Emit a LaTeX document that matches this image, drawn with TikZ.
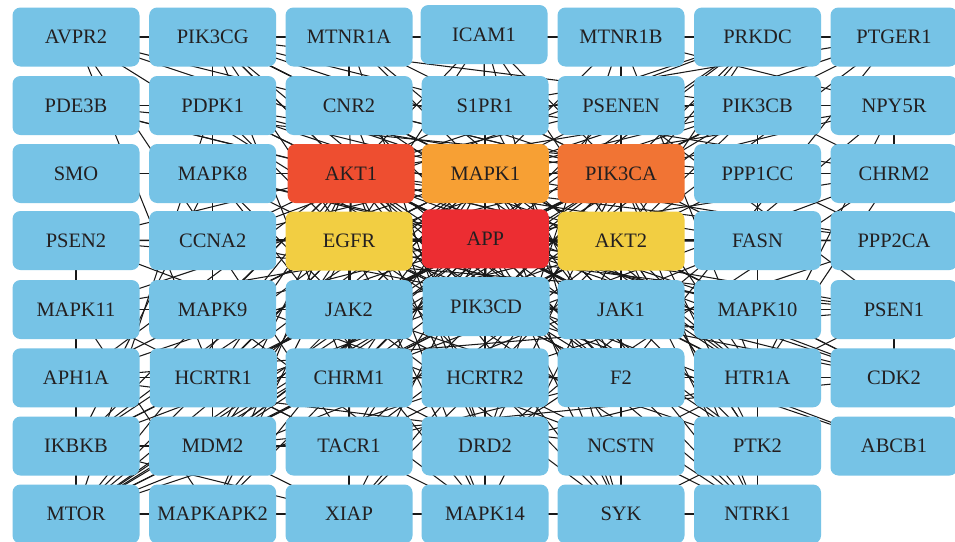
\documentclass[tikz,border=0pt]{standalone}
\usepackage{fontspec}
\setmainfont{Liberation Serif}
\usetikzlibrary{backgrounds}
\definecolor{nblue}{RGB}{118,195,230}
\definecolor{ntext}{RGB}{35,31,32}
\definecolor{ecol}{RGB}{25,25,25}
\definecolor{cakt}{RGB}{238,78,48}
\definecolor{cmapk}{RGB}{247,160,52}
\definecolor{cpik}{RGB}{241,116,52}
\definecolor{capp}{RGB}{236,45,50}
\definecolor{cyel}{RGB}{242,206,66}
\begin{document}
\begin{tikzpicture}[x=1pt,y=-1pt,
  gene/.style={rounded corners=8pt, minimum width=127pt, minimum height=59pt,
    inner sep=0pt, fill=nblue, text=ntext, font=\fontsize{20.5}{24}\selectfont},
  edge/.style={line width=1.05pt, draw=ecol}]
\useasboundingbox (0,0) rectangle (955,541);
% row 1
\node[gene] (AVPR2) at (76,37) {AVPR2};
\node[gene] (PIK3CG) at (212.7,37) {PIK3CG};
\node[gene] (MTNR1A) at (349,37) {MTNR1A};
\node[gene] (ICAM1) at (484,34.5) {ICAM1};
\node[gene] (MTNR1B) at (621,37) {MTNR1B};
\node[gene] (PRKDC) at (757.5,37) {PRKDC};
\node[gene] (PTGER1) at (894,37) {PTGER1};
% row 2
\node[gene] (PDE3B) at (76,105.5) {PDE3B};
\node[gene] (PDPK1) at (212.7,105.5) {PDPK1};
\node[gene] (CNR2) at (349,105.5) {CNR2};
\node[gene] (S1PR1) at (485,105.5) {S1PR1};
\node[gene] (PSENEN) at (621,105.5) {PSENEN};
\node[gene] (PIK3CB) at (757.5,105.5) {PIK3CB};
\node[gene] (NPY5R) at (894,105.5) {NPY5R};
% row 3
\node[gene] (SMO) at (76,173.5) {SMO};
\node[gene] (MAPK8) at (212.7,173.5) {MAPK8};
\node[gene,fill=cakt] (AKT1) at (351,173.5) {AKT1};
\node[gene,fill=cmapk] (MAPK1) at (485.3,173.5) {MAPK1};
\node[gene,fill=cpik] (PIK3CA) at (621,173.5) {PIK3CA};
\node[gene] (PPP1CC) at (757.5,173.5) {PPP1CC};
\node[gene] (CHRM2) at (894,173.5) {CHRM2};
% row 4
\node[gene] (PSEN2) at (76,240.5) {PSEN2};
\node[gene] (CCNA2) at (212.7,240.5) {CCNA2};
\node[gene,fill=cyel] (EGFR) at (349,241) {EGFR};
\node[gene,fill=capp] (APP) at (485.3,238.8) {APP};
\node[gene,fill=cyel] (AKT2) at (621,241) {AKT2};
\node[gene] (FASN) at (757.5,240.5) {FASN};
\node[gene] (PPP2CA) at (894,240.5) {PPP2CA};
% row 5
\node[gene] (MAPK11) at (76,309.5) {MAPK11};
\node[gene] (MAPK9) at (212.7,309.5) {MAPK9};
\node[gene] (JAK2) at (349,309.5) {JAK2};
\node[gene] (PIK3CD) at (486,306.7) {PIK3CD};
\node[gene] (JAK1) at (621,309.5) {JAK1};
\node[gene] (MAPK10) at (757.5,309.5) {MAPK10};
\node[gene] (PSEN1) at (894,309.5) {PSEN1};
% row 6
\node[gene] (APH1A) at (76,377.8) {APH1A};
\node[gene] (HCRTR1) at (213.3,377.8) {HCRTR1};
\node[gene] (CHRM1) at (349,377.8) {CHRM1};
\node[gene] (HCRTR2) at (485,377.8) {HCRTR2};
\node[gene] (F2) at (621,377.5) {F2};
\node[gene] (HTR1A) at (757.5,377.8) {HTR1A};
\node[gene] (CDK2) at (894,377.8) {CDK2};
% row 7
\node[gene] (IKBKB) at (76,446) {IKBKB};
\node[gene] (MDM2) at (212.7,446) {MDM2};
\node[gene] (TACR1) at (349,446) {TACR1};
\node[gene] (DRD2) at (485,446) {DRD2};
\node[gene] (NCSTN) at (621,446) {NCSTN};
\node[gene] (PTK2) at (757.5,446) {PTK2};
\node[gene] (ABCB1) at (894,446) {ABCB1};
% row 8
\node[gene] (MTOR) at (76,514) {MTOR};
\node[gene] (MAPKAPK2) at (212.7,514) {MAPKAPK2};
\node[gene] (XIAP) at (349,514) {XIAP};
\node[gene] (MAPK14) at (485,514) {MAPK14};
\node[gene] (SYK) at (621,514) {SYK};
\node[gene] (NTRK1) at (757.5,514) {NTRK1};

\begin{pgfonlayer}{background}
\fill[white] (0,0) rectangle (955,541);
\foreach \h/\l in {
 APP/{AKT1,MAPK1,PIK3CA,EGFR,AKT2,PSEN1,PSEN2,PSENEN,NCSTN,APH1A,MAPK8,MAPK9,MAPK10,MAPK11,MAPK14,CDK2,CCNA2,JAK2,JAK1,PIK3CD,PIK3CB,MTOR,MDM2,IKBKB,HTR1A,CHRM1,CHRM2,DRD2,F2,HCRTR1,HCRTR2,TACR1,CNR2,S1PR1,NTRK1,PTK2,PPP2CA,PDPK1,SYK,MAPKAPK2,ICAM1,XIAP},
 AKT1/{MAPK1,PIK3CA,EGFR,AKT2,PDPK1,MTOR,MDM2,XIAP,IKBKB,CCNA2,CDK2,PIK3CB,PIK3CD,PIK3CG,MAPK8,MAPK14,MAPK9,JAK2,JAK1,PTK2,NTRK1,SYK,FASN,PPP2CA,PPP1CC,ICAM1,PRKDC,PDE3B,MAPKAPK2,SMO,CNR2,S1PR1,CHRM1,HTR1A,DRD2,F2,TACR1,HCRTR1,MAPK10,APH1A},
 MAPK1/{PIK3CA,EGFR,AKT2,MAPK8,MAPK9,MAPK10,MAPK11,MAPK14,MAPKAPK2,JAK2,JAK1,PTK2,NTRK1,SYK,PDPK1,MTOR,CCNA2,CDK2,ICAM1,IKBKB,MDM2,PPP2CA,PPP1CC,CNR2,S1PR1,CHRM1,CHRM2,HTR1A,DRD2,F2,HCRTR1,HCRTR2,TACR1,AVPR2,MTNR1A,MTNR1B,NPY5R,PTGER1,PIK3CB,PIK3CD,PIK3CG,SMO},
 PIK3CA/{EGFR,AKT2,PIK3CB,PIK3CD,PIK3CG,PDPK1,MTOR,JAK2,JAK1,PTK2,NTRK1,SYK,CHRM1,CHRM2,HTR1A,DRD2,F2,HCRTR1,HCRTR2,TACR1,CNR2,S1PR1,AVPR2,MTNR1A,MTNR1B,NPY5R,PTGER1,ICAM1,PRKDC,IKBKB,MDM2,FASN,PPP1CC,PSENEN},
 EGFR/{AKT2,PIK3CB,PIK3CD,PIK3CG,JAK2,JAK1,PTK2,NTRK1,SYK,MAPK8,MAPK14,PDPK1,MTOR,CCNA2,CDK2,MDM2,PSEN1,PSEN2,PPP2CA,F2,ABCB1,ICAM1,IKBKB,MAPKAPK2,FASN,CHRM1,MAPK9,HCRTR1,TACR1,XIAP},
 AKT2/{PIK3CB,PIK3CD,PIK3CG,PDPK1,MTOR,MDM2,XIAP,IKBKB,PTK2,FASN,PPP2CA,PPP1CC,JAK1,JAK2,NTRK1,SYK,MAPK14,CDK2,PRKDC,PDE3B,PSENEN,HTR1A},
 CHRM1/{CHRM2,HTR1A,DRD2,TACR1,HCRTR1,F2,PIK3CG},
 CHRM2/{HTR1A,DRD2,NPY5R,S1PR1,PIK3CB},
 HTR1A/{DRD2,CNR2,NPY5R,MTNR1A,MTNR1B,CDK2},
 DRD2/{CNR2,MTNR1A,MTNR1B,NPY5R,S1PR1,MAPK14},
 CNR2/{S1PR1,NPY5R,MTNR1A,PIK3CG},
 MTNR1A/{MTNR1B},
 HCRTR1/{HCRTR2,TACR1,AVPR2,APH1A,CHRM1},
 HCRTR2/{TACR1,F2,DRD2},
 F2/{TACR1,S1PR1,AVPR2,PTGER1,NCSTN,PIK3CG},
 AVPR2/{PTGER1,TACR1,PIK3CG},
 PTGER1/{TACR1,S1PR1},
 S1PR1/{NPY5R,PIK3CB,PIK3CG},
 NPY5R/{MTNR1B},
 PIK3CB/{PIK3CD,PIK3CG,MTOR,PPP1CC,NTRK1},
 PIK3CD/{PIK3CG,MTOR,JAK2,JAK1,ABCB1},
 MAPK8/{MAPK9,MAPK10,MAPK14,JAK2,IKBKB,SMO,AKT1},
 MAPK9/{MAPK10,MAPK11,MAPK14,MDM2},
 MAPK11/{MAPK14,MAPKAPK2,MAPK9},
 MAPK14/{MAPKAPK2,SYK,XIAP},
 PSEN1/{PSEN2,PSENEN,NCSTN,APH1A,CDK2,MAPK10},
 PSEN2/{PSENEN,NCSTN,APH1A,MTOR},
 PSENEN/{NCSTN,APH1A},
 NCSTN/{APH1A},
 MTOR/{PDPK1,PRKDC,FASN,IKBKB,MAPKAPK2,PPP2CA},
 MDM2/{XIAP,PRKDC,CDK2,CCNA2,TACR1,PDPK1},
 CDK2/{CCNA2},
 CCNA2/{PRKDC},
 IKBKB/{XIAP,MDM2},
 JAK1/{JAK2,SYK,MAPK10},
 JAK2/{PTK2,SYK,NTRK1},
 PTK2/{SYK,NTRK1,ICAM1},
 SYK/{NTRK1,ICAM1},
 PPP2CA/{PPP1CC},
 PPP1CC/{PDE3B,CHRM2},
 PDE3B/{PDPK1},
 PDPK1/{PIK3CG},
 XIAP/{PRKDC,TACR1},
 FASN/{PPP2CA}}
 { \foreach \t in \l { \draw[edge] (\h.center) -- (\t.center); } }
\end{pgfonlayer}
\end{tikzpicture}
\end{document}
